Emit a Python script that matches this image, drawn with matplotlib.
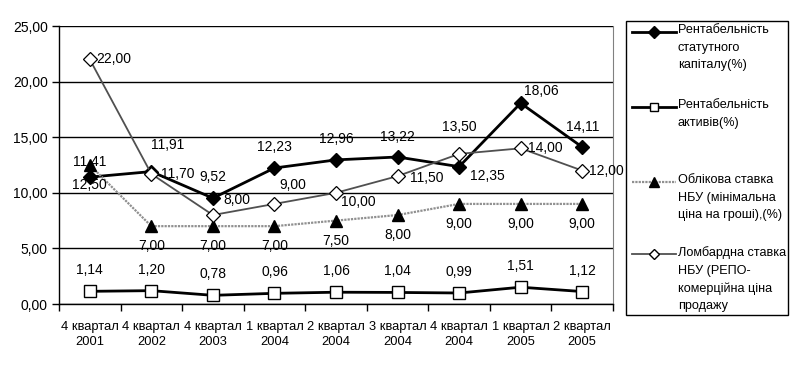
import numpy as np
import matplotlib.pyplot as plt
from matplotlib.lines import Line2D
from matplotlib.patches import Rectangle
from matplotlib.ticker import FuncFormatter, MultipleLocator

plt.rcParams['font.family'] = ['Liberation Sans', 'DejaVu Sans']
plt.rcParams['font.size'] = 10

# Data
quarters = ["4 квартал\n2001", "4 квартал\n2002", "4 квартал\n2003", "1 квартал\n2004",
            "2 квартал\n2004", "3 квартал\n2004", "4 квартал\n2004", "1 квартал\n2005",
            "2 квартал\n2005"]
roe = [11.41, 11.91, 9.52, 12.23, 12.96, 13.22, 12.35, 18.06, 14.11]
roa = [1.14, 1.20, 0.78, 0.96, 1.06, 1.04, 0.99, 1.51, 1.12]
discount = [12.50, 7.00, 7.00, 7.00, 7.50, 8.00, 9.00, 9.00, 9.00]
lombard = [22.00, 11.70, 8.00, 9.00, 10.00, 11.50, 13.50, 14.00, 12.00]

names = ["Рентабельність\nстатутного\nкапіталу(%)",
         "Рентабельність\nактивів(%)",
         "Облікова ставка\nНБУ (мінімальна\nціна на гроші),(%)",
         "Ломбардна ставка\nНБУ (РЕПО-\nкомерційна ціна\nпродажу"]

# label offsets in pixels (dx, dy)
roe_off = [(0, 15), (16, 27), (0, 21), (0, 21), (0, 21), (0, 20), (28, -9), (21, 12), (0, 20)]
roa_off = [(0, 21)] * 9
disc_off = [(0, -20)] * 9
lomb_off = [(24, 0), (26, 0), (24, 15), (18, 19), (22, -9), (29, -2), (0, 27), (25, 0), (24, 0)]

W, H = 796, 367
fig = plt.figure(figsize=(W / 100, H / 100), dpi=100)
ax = fig.add_axes([59 / W, (H - 304) / H, (613 - 59) / W, (304 - 26) / H])

x = np.arange(len(quarters))
styles = [
    (roe, dict(color='black', lw=2, marker='D', ms=7.5, mfc='black', mec='black')),
    (roa, dict(color='black', lw=2, marker='s', ms=8, mfc='white', mec='black', mew=1)),
    (discount, dict(color='#909090', lw=1.6, ls=(0, (1, 0.5)), marker='^', ms=9, mfc='black', mec='black')),
    (lombard, dict(color='#505050', lw=1.3, marker='D', ms=7, mfc='white', mec='black', mew=0.9)),
]
for vals, st in styles:
    ax.plot(x, vals, zorder=3, clip_on=False, **st)

def fmt(v):
    return f"{v:.2f}".replace('.', ',')

for vals, offs in [(roe, roe_off), (roa, roa_off), (discount, disc_off), (lombard, lomb_off)]:
    for xi, v, (dx, dy) in zip(x, vals, offs):
        ax.annotate(fmt(v), (xi, v), xytext=(dx, dy), textcoords='offset pixels',
                    ha='center', va='center', fontsize=10, zorder=4)

ax.set_xlim(-0.5, len(quarters) - 0.5)
ax.set_ylim(0, 25)
ax.yaxis.set_major_locator(MultipleLocator(5))
ax.yaxis.set_major_formatter(FuncFormatter(lambda v, p: fmt(v)))
ax.set_xticks(x)
ax.set_xticklabels(quarters, fontsize=9.3, linespacing=1.4)
ax.set_xticks(np.arange(-0.5, len(quarters)), minor=True)
ax.tick_params(axis='x', which='major', length=0, pad=12)
ax.tick_params(axis='x', which='minor', length=5, direction='out', width=1)
ax.tick_params(axis='y', length=5, direction='out', width=1, pad=3)

ax.grid(axis='y', color='black', lw=1)
ax.get_ygridlines()[-1].set_visible(False)
ax.spines['top'].set_visible(False)
ax.spines['right'].set_color('#808080')
for s in ('left', 'bottom'):
    ax.spines[s].set_linewidth(1)

# legend
def px(xp, yp):
    return xp / W, 1 - yp / H

fig.patches.append(Rectangle(px(626, 315), (788 - 626) / W, (315 - 21) / H,
                             transform=fig.transFigure, fill=False, ec='black', lw=1))
entry_y = [32, 107, 182, 254]
for (vals, st), name, yy in zip(styles, names, entry_y):
    xs = [px(632, 0)[0], px(676, 0)[0]]
    ys = [px(0, yy)[1]] * 2
    fig.add_artist(Line2D(xs, ys, transform=fig.transFigure, color=st['color'],
                          lw=st['lw'], ls=st.get('ls', '-')))
    mx = (xs[0] + xs[1]) / 2
    fig.add_artist(Line2D([mx], [ys[0]], transform=fig.transFigure, ls='none',
                          marker=st['marker'], ms=st['ms'] * 0.75, mfc=st['mfc'], mec=st['mec']))
    fig.text(px(678, 0)[0], px(0, yy - 8)[1], name, ha='left', va='top',
             fontsize=9.1, linespacing=1.62)

fig.savefig('out.png', dpi=100)
